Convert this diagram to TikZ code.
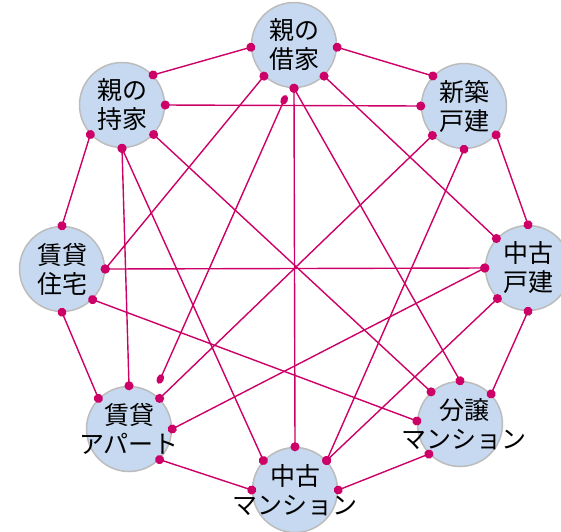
\documentclass[tikz,border=0pt]{standalone}
\usepackage{fontspec}
\setmainfont{Noto Sans CJK JP}
\usetikzlibrary{arrows.meta}

\definecolor{linkred}{RGB}{204,0,102}
\definecolor{housefill}{RGB}{198,217,240}
\definecolor{houseline}{RGB}{188,188,188}

\begin{document}
\begin{tikzpicture}[x=1pt,y=-1pt,
  house/.style={circle,draw=houseline,line width=1.5pt,fill=housefill,minimum size=85pt,inner sep=0pt},
  housename/.style={font=\fontsize{25}{29}\selectfont,align=center,inner sep=0pt},
  link/.style={draw=linkred,line width=1.4pt,{Circle[length=9pt]}-{Circle[length=9pt]},shorten <=-4.5pt,shorten >=-4.5pt}]
\useasboundingbox (0,0) rectangle (561,531);
\node[house,label={[housename]center:親の\\借家}] (shakuya) at (294,45) {};
\node[house,label={[housename]center:新築\\戸建}] (shinchiku) at (464,106) {};
\node[house,label={[housename]center:中古\\戸建}] (chukoko) at (528,268) {};
\node[house,label={[housename,xshift=4pt]center:分譲\\マンション}] (bunjo) at (460,424) {};
\node[house,label={[housename]center:中古\\マンション}] (chukoman) at (295,490) {};
\node[house,label={[housename]center:賃貸\\アパート}] (apato) at (129,429) {};
\node[house,label={[housename]center:賃貸\\住宅}] (chintai) at (62,269) {};
\node[house,label={[housename]center:親の\\持家}] (mochiie) at (122,105) {};
\draw[link] (shakuya.183) -- (mochiie.44);
\draw[link] (shakuya.357) -- (shinchiku.136);
\draw[link] (shakuya.226) -- (chintai.0);
\draw[link] (shakuya.314) -- (chukoko.137);
\draw[link,{Circle[length=10pt,width=7pt]}-{Circle[length=10pt,width=7pt]},shorten <=8pt,shorten >=11pt] (shakuya.264) -- (apato.55);
\draw[link] (shakuya.270) -- (chukoman.90);
\draw[link] (shakuya.270) -- (bunjo.90);
\draw[link] (mochiie.0) -- (shinchiku.180);
\draw[link] (mochiie.317) -- (bunjo.132);
\draw[link] (mochiie.270) -- (chukoman.137);
\draw[link] (mochiie.270) -- (apato.90);
\draw[link] (mochiie.223) -- (chintai.90);
\draw[link] (shinchiku.223) -- (apato.45);
\draw[link] (shinchiku.270) -- (chukoman.43);
\draw[link] (shinchiku.318) -- (chukoko.90);
\draw[link] (chukoko.180) -- (chintai.0);
\draw[link] (chukoko.180) -- (apato.0);
\draw[link] (chukoko.225) -- (chukoman.43);
\draw[link] (chukoko.270) -- (bunjo.44);
\draw[link] (bunjo.176) -- (chintai.315);
\draw[link] (bunjo.224) -- (chukoman.0);
\draw[link] (chukoman.180) -- (apato.315);
\draw[link] (apato.135) -- (chintai.270);
\end{tikzpicture}
\end{document}
